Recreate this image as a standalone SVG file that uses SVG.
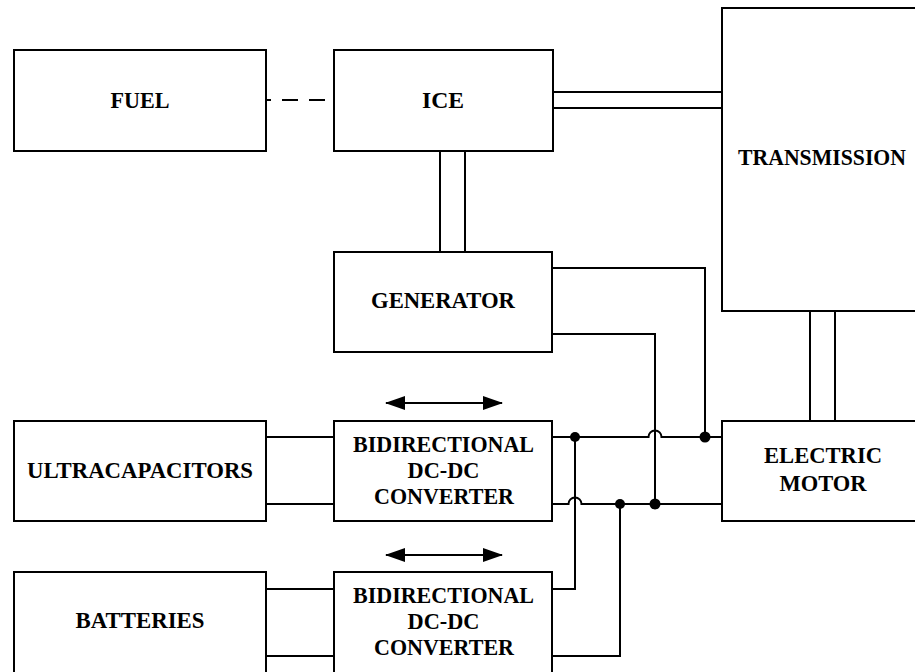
<svg xmlns="http://www.w3.org/2000/svg" width="915" height="672" viewBox="0 0 915 672">
<defs>
<style>
.box{fill:#fff;stroke:#000;stroke-width:2}
.w{fill:none;stroke:#000;stroke-width:2}
.t{font-family:"Liberation Serif","Times New Roman",serif;font-weight:bold;font-size:24px;fill:#000;text-anchor:middle}
.dot{fill:#000}
</style>
<marker id="ah" viewBox="0 0 20 14" refX="19" refY="7" markerWidth="20" markerHeight="14" markerUnits="userSpaceOnUse" orient="auto-start-reverse">
<path d="M0,0 L20,7 L0,14 Z" fill="#000"/>
</marker>
</defs>
<rect width="915" height="672" fill="#fff"/>
<g id="connectors">
<path class="w" d="M266,100 H334" stroke-dasharray="16 11" stroke-dashoffset="11"/>
<path class="w" d="M553,92 H722 M553,108 H722"/>
<path class="w" d="M440,151 V252 M465,151 V252"/>
<path class="w" d="M810,311 V421 M835,311 V421"/>
<path class="w" d="M552,268 H705 V437"/>
<path class="w" d="M552,334 H655 V504"/>
<path class="w" d="M266,437 H334 M266,504 H334"/>
<path class="w" d="M266,589 H334 M266,656 H334"/>
<path class="w" d="M552,437 H648.5 A6.5,6.5 0 0 1 661.5,437 H722"/>
<path class="w" d="M552,504 H568.5 A6.5,6.5 0 0 1 581.5,504 H722"/>
<path class="w" d="M552,589 H575 V437"/>
<path class="w" d="M552,656 H620 V504"/>
<circle class="dot" cx="575" cy="437" r="5"/>
<circle class="dot" cx="705" cy="437" r="5.5"/>
<circle class="dot" cx="620" cy="504" r="5"/>
<circle class="dot" cx="655" cy="504" r="5.5"/>
<path class="w" d="M386,403 H502" marker-start="url(#ah)" marker-end="url(#ah)"/>
<path class="w" d="M386,555 H502" marker-start="url(#ah)" marker-end="url(#ah)"/>
</g>
<g id="fuel"><rect class="box" x="14" y="50" width="252" height="101"/><text class="t" x="140" y="108" textLength="59" lengthAdjust="spacingAndGlyphs">FUEL</text></g>
<g id="ice"><rect class="box" x="334" y="50" width="219" height="101"/><text class="t" x="443" y="108" textLength="42" lengthAdjust="spacingAndGlyphs">ICE</text></g>
<g id="transmission"><rect class="box" x="722" y="8" width="200" height="303"/><text class="t" x="822" y="165" textLength="168" lengthAdjust="spacingAndGlyphs">TRANSMISSION</text></g>
<g id="generator"><rect class="box" x="334" y="252" width="218" height="100"/><text class="t" x="443" y="308" textLength="144" lengthAdjust="spacingAndGlyphs">GENERATOR</text></g>
<g id="ultracapacitors"><rect class="box" x="14" y="421" width="252" height="100"/><text class="t" x="140" y="478" textLength="226" lengthAdjust="spacingAndGlyphs">ULTRACAPACITORS</text></g>
<g id="converter1"><rect class="box" x="334" y="421" width="218" height="100"/>
<text class="t" x="443.5" y="452" textLength="181" lengthAdjust="spacingAndGlyphs">BIDIRECTIONAL</text>
<text class="t" x="443.5" y="478" textLength="72" lengthAdjust="spacingAndGlyphs">DC-DC</text>
<text class="t" x="444" y="504" textLength="140" lengthAdjust="spacingAndGlyphs">CONVERTER</text></g>
<g id="motor"><rect class="box" x="722" y="421" width="200" height="100"/>
<text class="t" x="823" y="463" textLength="118" lengthAdjust="spacingAndGlyphs">ELECTRIC</text>
<text class="t" x="823" y="491" textLength="87" lengthAdjust="spacingAndGlyphs">MOTOR</text></g>
<g id="batteries"><rect class="box" x="14" y="572" width="252" height="104"/><text class="t" x="140" y="628" textLength="129" lengthAdjust="spacingAndGlyphs">BATTERIES</text></g>
<g id="converter2"><rect class="box" x="334" y="572" width="218" height="104"/>
<text class="t" x="443.5" y="603" textLength="181" lengthAdjust="spacingAndGlyphs">BIDIRECTIONAL</text>
<text class="t" x="443.5" y="629" textLength="72" lengthAdjust="spacingAndGlyphs">DC-DC</text>
<text class="t" x="444" y="655" textLength="140" lengthAdjust="spacingAndGlyphs">CONVERTER</text></g>
</svg>
